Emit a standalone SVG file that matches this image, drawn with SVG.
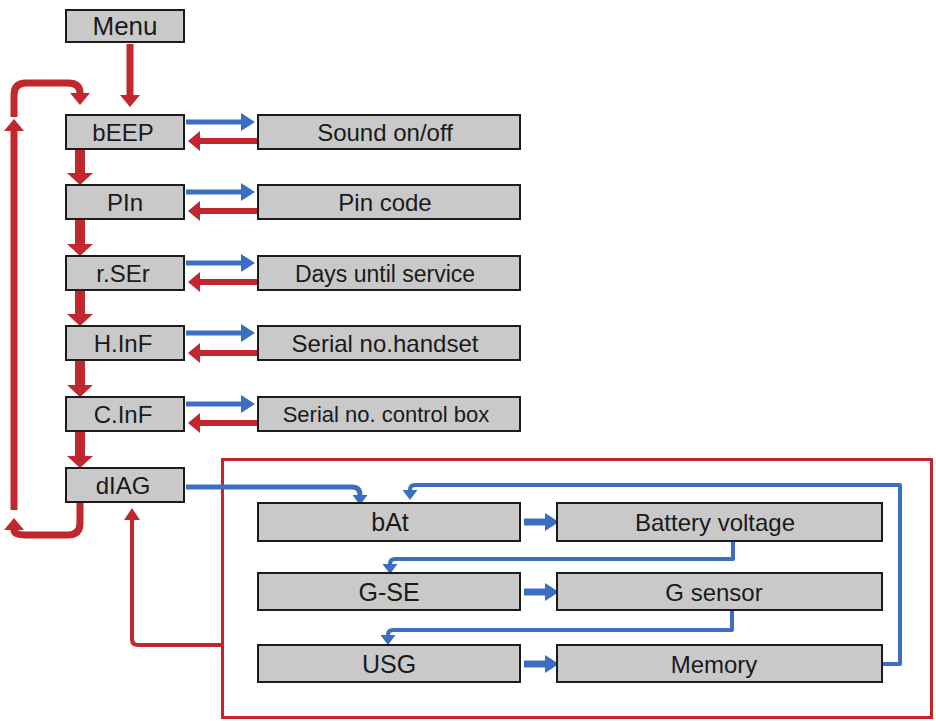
<svg xmlns="http://www.w3.org/2000/svg" width="936" height="721" viewBox="0 0 936 721">
<style>
  .box { fill: #c9c9c9; stroke: #1c1c1c; stroke-width: 2; }
  .t { font-family: "Liberation Sans", Arial, sans-serif; font-size: 24px; fill: #1a1a1a; text-anchor: middle; }
  .red { fill: none; stroke: #c1272d; stroke-linejoin: round; }
  .blue { fill: none; stroke: #3b6ec2; stroke-linejoin: round; }
  .rh { fill: #c1272d; }
  .bh { fill: #3b6ec2; }
</style>
<defs>
  <marker id="rDown" markerUnits="userSpaceOnUse" viewBox="0 0 12 26" refX="0" refY="13" markerWidth="12" markerHeight="26" orient="auto"><path class="rh" d="M0,0 L12,13 L0,26 z"/></marker>
  <marker id="rMid" markerUnits="userSpaceOnUse" viewBox="0 0 12 20" refX="0" refY="10" markerWidth="12" markerHeight="20" orient="auto"><path class="rh" d="M0,0 L12,10 L0,20 z"/></marker>
  <marker id="rSmall" markerUnits="userSpaceOnUse" viewBox="0 0 12 16" refX="0" refY="8" markerWidth="12" markerHeight="16" orient="auto"><path class="rh" d="M0,0 L12,8 L0,16 z"/></marker>
  <marker id="bMid" markerUnits="userSpaceOnUse" viewBox="0 0 14 18" refX="0" refY="9" markerWidth="14" markerHeight="18" orient="auto"><path class="bh" d="M0,0 L14,9 L0,18 z"/></marker>
  <marker id="bSmall" markerUnits="userSpaceOnUse" viewBox="0 0 10 15" refX="0" refY="7.5" markerWidth="10" markerHeight="15" orient="auto"><path class="bh" d="M0,0 L10,7.5 L0,15 z"/></marker>
</defs>

<!-- Frame around diagnostics -->
<rect x="222.5" y="459.5" width="709" height="258" fill="none" stroke="#c8232b" stroke-width="3"/>

<g id="connectors">
  <!-- Menu to bEEP -->
  <path class="red" stroke-width="7" d="M130,44 L130,95" marker-end="url(#rMid)"/>
  <!-- vertical chain -->
  <path class="red" stroke-width="10" d="M80,149 L80,173" marker-end="url(#rDown)"/>
  <path class="red" stroke-width="10" d="M80,219 L80,244" marker-end="url(#rDown)"/>
  <path class="red" stroke-width="10" d="M80,290 L80,314" marker-end="url(#rDown)"/>
  <path class="red" stroke-width="10" d="M80,360 L80,385" marker-end="url(#rDown)"/>
  <path class="red" stroke-width="10" d="M80,431 L80,456" marker-end="url(#rDown)"/>
  <!-- loop back -->
  <path class="red" stroke-width="7" d="M80,502 L80,523 Q80,535 68,535 L26,535 Q14,535 14,530" marker-end="url(#rMid)"/>
  <path class="red" stroke-width="7" d="M14,510 L14,131" marker-end="url(#rMid)"/>
  <path class="red" stroke-width="7" d="M14,117 L14,95 Q14,83 26,83 L68,83 Q80,83 80,93" marker-end="url(#rMid)"/>

  <!-- side arrows -->
  <path class="blue" stroke-width="5" d="M186,122 L241,122" marker-end="url(#bMid)"/>
  <path class="red" stroke-width="6" d="M258,141 L200,141" marker-end="url(#rMid)"/>
  <path class="blue" stroke-width="5" d="M186,192 L241,192" marker-end="url(#bMid)"/>
  <path class="red" stroke-width="6" d="M258,211 L200,211" marker-end="url(#rMid)"/>
  <path class="blue" stroke-width="5" d="M186,263 L241,263" marker-end="url(#bMid)"/>
  <path class="red" stroke-width="6" d="M258,282 L200,282" marker-end="url(#rMid)"/>
  <path class="blue" stroke-width="5" d="M186,333 L241,333" marker-end="url(#bMid)"/>
  <path class="red" stroke-width="6" d="M258,353 L200,353" marker-end="url(#rMid)"/>
  <path class="blue" stroke-width="5" d="M186,404 L241,404" marker-end="url(#bMid)"/>
  <path class="red" stroke-width="6" d="M258,423 L200,423" marker-end="url(#rMid)"/>

  <!-- dIAG to bAt -->
  <path class="blue" stroke-width="5" d="M186,487 L352,487 Q360,487 360,495" marker-end="url(#bSmall)"/>
  <!-- back from frame to dIAG -->
  <path class="red" stroke-width="4" d="M222,645 L138,645 Q132,645 132,639 L132,520" marker-end="url(#rSmall)"/>

  <!-- inner arrows -->
  <path class="blue" stroke-width="7" d="M524,522 L545,522" marker-end="url(#bMid)"/>
  <path class="blue" stroke-width="7" d="M524,592 L545,592" marker-end="url(#bMid)"/>
  <path class="blue" stroke-width="7" d="M524,664 L545,664" marker-end="url(#bMid)"/>

  <path class="blue" stroke-width="4" d="M733,541 L733,559 L395,559 Q390,559 390,564" marker-end="url(#bSmall)"/>
  <path class="blue" stroke-width="4" d="M732,611 L732,630 L393,630 Q388,630 388,635" marker-end="url(#bSmall)"/>
  <path class="blue" stroke-width="4" d="M883,664 L900,664 L900,485 L415,485 Q410,485 410,490" marker-end="url(#bSmall)"/>
</g>

<g id="menu"><rect class="box" x="66" y="10" width="118" height="32"/><text class="t" x="125" y="35" style="font-size:26px">Menu</text></g>

<g id="beep"><rect class="box" x="66" y="115" width="118" height="34"/><text class="t" x="123" y="140.5">bEEP</text></g>
<g id="pin"><rect class="box" x="66" y="185" width="118" height="34"/><text class="t" x="125" y="210.5">PIn</text></g>
<g id="rser"><rect class="box" x="66" y="256" width="118" height="34"/><text class="t" x="123" y="281.5">r.SEr</text></g>
<g id="hinf"><rect class="box" x="66" y="326" width="118" height="34"/><text class="t" x="123" y="351.5">H.InF</text></g>
<g id="cinf"><rect class="box" x="66" y="397" width="118" height="34"/><text class="t" x="123" y="422.5">C.InF</text></g>
<g id="diag"><rect class="box" x="66" y="468" width="118" height="34"/><text class="t" x="123" y="493.5">dIAG</text></g>

<g id="sound"><rect class="box" x="258" y="115" width="262" height="34"/><text class="t" x="385" y="140.5">Sound on/off</text></g>
<g id="pincode"><rect class="box" x="258" y="185" width="262" height="34"/><text class="t" x="385" y="210.5">Pin code</text></g>
<g id="days"><rect class="box" x="258" y="256" width="262" height="34"/><text class="t" x="385" y="281.5" style="font-size:23px">Days until service</text></g>
<g id="serialhs"><rect class="box" x="258" y="326" width="262" height="34"/><text class="t" x="385" y="351.5">Serial no.handset</text></g>
<g id="serialcb"><rect class="box" x="258" y="397" width="262" height="34"/><text class="t" x="386" y="422" style="font-size:22px">Serial no. control box</text></g>

<g id="bat"><rect class="box" x="258" y="503" width="262" height="38"/><text class="t" x="390" y="531" style="font-size:25px">bAt</text></g>
<g id="gse"><rect class="box" x="258" y="573" width="262" height="37"/><text class="t" x="389" y="600.5" style="font-size:25px">G-SE</text></g>
<g id="usg"><rect class="box" x="258" y="645" width="262" height="37"/><text class="t" x="389" y="672.5" style="font-size:25px">USG</text></g>

<g id="battery"><rect class="box" x="557" y="503" width="325" height="38"/><text class="t" x="715" y="531">Battery voltage</text></g>
<g id="gsensor"><rect class="box" x="557" y="573" width="325" height="37"/><text class="t" x="714" y="600.5">G sensor</text></g>
<g id="memory"><rect class="box" x="557" y="645" width="325" height="37"/><text class="t" x="714" y="672.5">Memory</text></g>
</svg>
